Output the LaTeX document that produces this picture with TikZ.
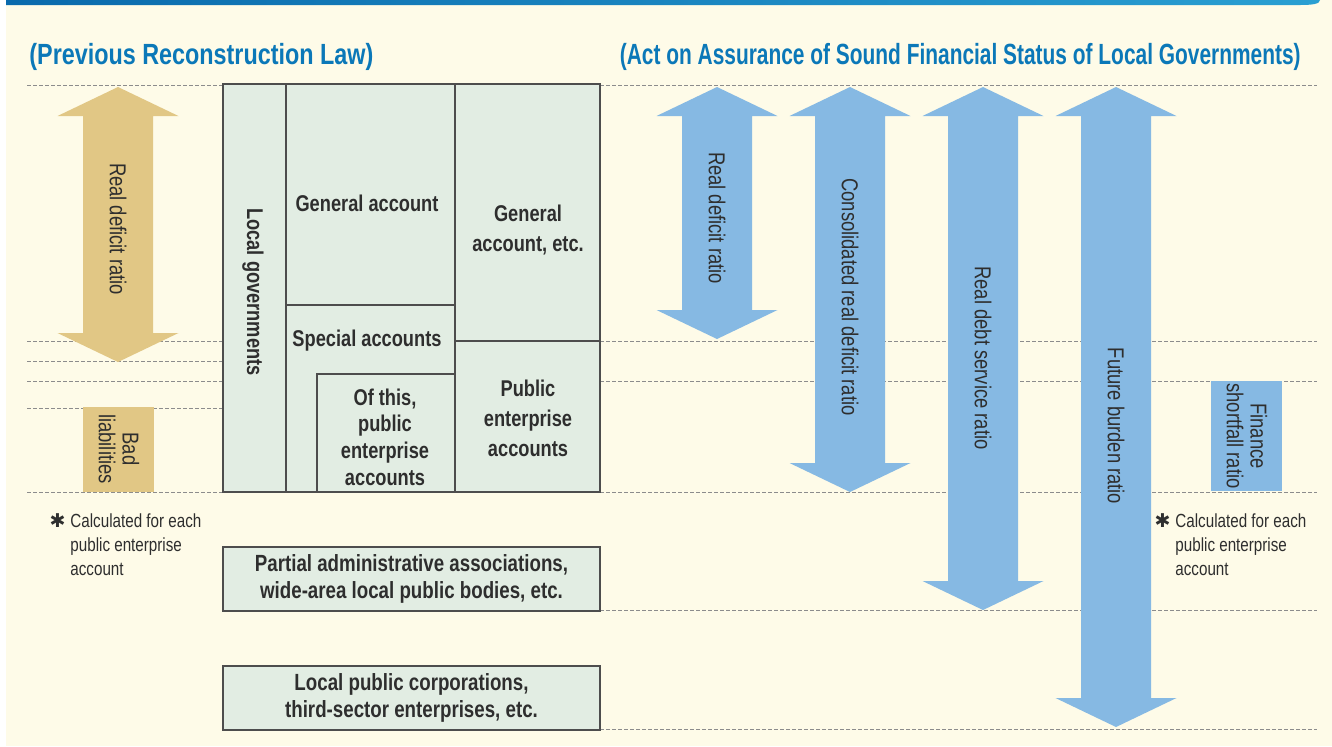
\documentclass[tikz,border=0pt]{standalone}
\usepackage{fontspec}
\setmainfont{Liberation Sans}[FakeStretch=0.8]
\newfontfamily\symfont{DejaVu Sans}
\usetikzlibrary{positioning}

\definecolor{bgcream}{HTML}{FEFBE8}
\definecolor{barleft}{HTML}{0A6AAC}
\definecolor{barright}{HTML}{2A9FD2}
\definecolor{headblue}{HTML}{0B78B8}
\definecolor{boxfill}{HTML}{E2EDE3}
\definecolor{boxline}{HTML}{4D4D4D}
\definecolor{guidegray}{HTML}{8C8C8C}
\definecolor{ratioblue}{HTML}{86B9E3}
\definecolor{ratiogold}{HTML}{E1C785}
\definecolor{textdark}{HTML}{2E2E2E}

% double arrow: centre x, top tip, bottom tip, colour
\newcommand{\ratioarrow}[4]{%
  \fill[#4] (#1,#2) -- ({#1+60.5},{#2+29}) -- ({#1+35},{#2+29})
    -- ({#1+35},{#3-29}) -- ({#1+60.5},{#3-29}) -- (#1,#3)
    -- ({#1-60.5},{#3-29}) -- ({#1-35},{#3-29}) -- ({#1-35},{#2+29})
    -- ({#1-60.5},{#2+29}) -- cycle;}

\begin{document}
\begin{tikzpicture}[
  x=0.5pt,
  y=-0.5pt,
  guide/.style={guidegray, line width=0.5pt, dash pattern=on 2pt off 1pt},
  boxpart/.style={draw=boxline, fill=boxfill, line width=0.6pt},
  boxtext/.style={font=\bfseries\fontsize{11.4}{15}\selectfont, align=center, text=textdark},
  lowerbox/.style={boxpart, boxtext, minimum width=188.5pt, minimum height=32pt,
    font=\bfseries\fontsize{11.7}{13.5}\selectfont},
  ratiotext/.style={font=\fontsize{11.5}{11.8}\selectfont, rotate=-90, align=center, text=textdark},
  header/.style={font=\bfseries\fontsize{14.6}{17}\selectfont, text=headblue, inner sep=0pt},
  note/.style={font=\fontsize{9.5}{12}\selectfont, align=left, text=textdark, inner sep=0pt},
]

\useasboundingbox (0,0) rectangle (1332,746);

% background and top bar
\fill[white] (0,0) rectangle (1332,746);
\fill[bgcream] (6,0) rectangle (1332,746);
\shade[left color=barleft, right color=barright]
  (6,0) -- (1320,0) .. controls (1320,4) and (1312,5) .. (1300,5) -- (6,5) -- cycle;

% headings
\node[header, anchor=west] (oldlaw) at (29,57) {(Previous Reconstruction Law)};
\node[header, anchor=east] (newlaw) at (1301,57)
  {\scalebox{0.895}[1]{(Act on Assurance of Sound Financial Status of Local Governments)}};

% dashed level lines
\foreach \yy in {85,341,361,381,408,492}
  \draw[guide] (27,\yy) -- (223,\yy);
\foreach \yy in {85,341,381,492,610,729}
  \draw[guide] (600,\yy) -- (1317,\yy);

% local government accounts
\draw[boxpart] (223,84) rectangle (600,492);
\draw[boxline, line width=0.6pt] (286,84) -- (286,492);
\draw[boxline, line width=0.6pt] (455,84) -- (455,492);
\draw[boxline, line width=0.6pt] (286,305) -- (455,305);
\draw[boxline, line width=0.6pt] (455,341) -- (600,341);
\draw[boxline, line width=0.6pt] (317,492) -- (317,374) -- (455,374);

\node[boxtext, rotate=-90] (localgov) at (253,292) {Local governments};
\node[boxtext] (genacc) at (367,203) {General account};
\node[boxtext] (genetc) at (528,230) {General\\account, etc.};
\node[boxtext] (special) at (367,341) {Special accounts};
\node[boxtext, font=\bfseries\fontsize{11.4}{13.3}\selectfont] (ofthis) at (385,437)
  {Of this,\\public\\enterprise\\accounts};
\node[boxtext] (pubent) at (528,418) {Public\\enterprise\\accounts};

% other bodies
\node[lowerbox] (partial) at (411.5,579)
  {Partial administrative associations,\\wide-area local public bodies, etc.};
\node[lowerbox] (corps) at (411.5,698)
  {Local public corporations,\\third-sector enterprises, etc.};

% previous law indicators
\ratioarrow{118}{87}{362}{ratiogold}
\node[ratiotext] (oldreal) at (118,229) {Real deficit ratio};
\fill[ratiogold] (83,407) rectangle (154,492);
\node[ratiotext] (badliab) at (119,449) {Bad\\liabilities};

% new act indicators
\ratioarrow{717}{87}{339}{ratioblue}
\ratioarrow{850}{87}{492}{ratioblue}
\ratioarrow{983}{87}{610}{ratioblue}
\ratioarrow{1116}{87}{727}{ratioblue}
\node[ratiotext] (newreal) at (717,218) {Real deficit ratio};
\node[ratiotext] (consol) at (850,297) {Consolidated real deficit ratio};
\node[ratiotext] (debtserv) at (983,358) {Real debt service ratio};
\node[ratiotext] (future) at (1116,426) {Future burden ratio};
\fill[ratioblue] (1211,381) rectangle (1282,491);
\node[ratiotext] (shortfall) at (1247,436) {Finance\\shortfall ratio};

% footnotes
\node[note, anchor=north west] (noteleft) at (70,513)
  {Calculated for each\\public enterprise\\account};
\node[note, left=2pt of noteleft.north west, anchor=north east]
  (markleft) {\symfont\bfseries ✱};
\node[note, anchor=north west] (noteright) at (1175,513)
  {Calculated for each\\public enterprise\\account};
\node[note, left=2pt of noteright.north west, anchor=north east]
  (markright) {\symfont\bfseries ✱};

\end{tikzpicture}
\end{document}
